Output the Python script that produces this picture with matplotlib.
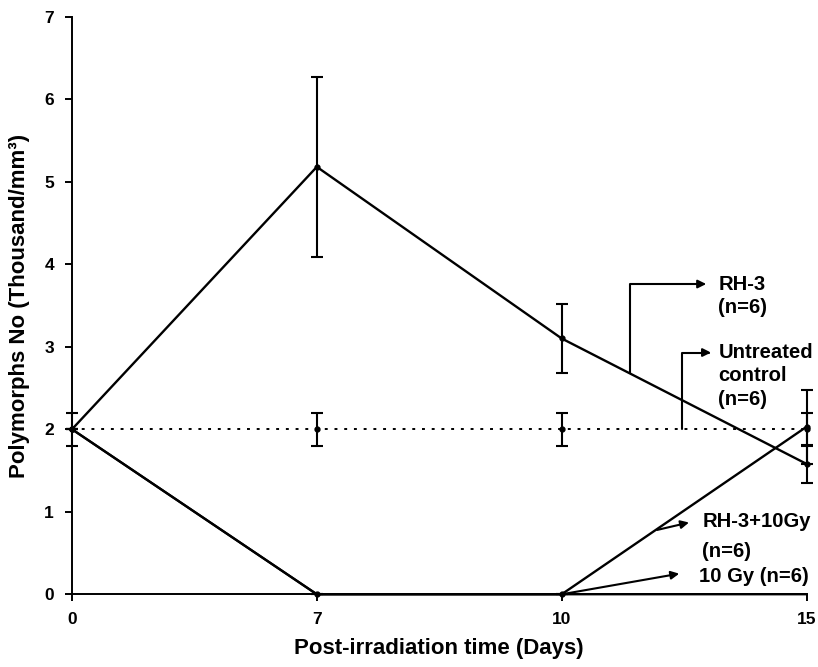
import numpy as np
import matplotlib
matplotlib.use('Agg')
import matplotlib.pyplot as plt

plt.rcParams['font.family'] = ['Liberation Sans', 'DejaVu Sans']
plt.rcParams['font.weight'] = 'bold'

# ---- data ----
days = ['0', '7', '10', '15']
rh3 = [2.0, 5.18, 3.1, 1.58]
rh3_err = [0.0, 1.09, 0.42, 0.23]
control = [2.0, 2.0, 2.0, 2.0]
control_err = [0.2, 0.2, 0.2, 0.2]
rh3_10gy = [2.0, 0.0, 0.0, 2.03]
rh3_10gy_err = [0.0, 0.0, 0.0, 0.45]
gy10 = [2.0, 0.0, 0.0, 0.0]

x = np.arange(len(days))

fig = plt.figure(figsize=(8.18, 6.67), dpi=100)
ax = fig.add_axes([0.088, 0.109, 0.898, 0.866])

common = dict(color='black', marker='o', ms=3.5, capsize=4, elinewidth=1.5,
              capthick=1.5, clip_on=False, zorder=3)

ax.plot(x, gy10, color='black', lw=1.6, clip_on=False, zorder=2)
ax.errorbar(x, control, yerr=control_err, ls=(0, (1.5, 3.5)), lw=1.4, **common)
ax.errorbar(x, rh3_10gy, yerr=rh3_10gy_err, ls='-', lw=1.7, **common)
ax.errorbar(x, rh3, yerr=rh3_err, ls='-', lw=1.7, **common)

ax.set_xlim(0, 3)
ax.set_ylim(0, 7)
ax.set_xticks(x)
ax.set_xticklabels(days)
ax.set_yticks(range(0, 8))
for s in ['top', 'right']:
    ax.spines[s].set_visible(False)
for s in ['left', 'bottom']:
    ax.spines[s].set_linewidth(1.4)
ax.tick_params(axis='both', direction='out', length=5, width=1.4,
               labelsize=12.5, pad=8)
for lab in ax.get_xticklabels() + ax.get_yticklabels():
    lab.set_fontweight('bold')

ax.set_xlabel('Post-irradiation time (Days)', fontsize=16, fontweight='bold', labelpad=8)
ax.set_ylabel('Polymorphs No (Thousand/mm\u00b3)', fontsize=16, fontweight='bold', labelpad=10)

# ---- annotations ----
tfs = 14.6
arrow = dict(arrowstyle='-|>', color='black', lw=1.5, shrinkA=0, shrinkB=0,
             mutation_scale=12)

ax.annotate('', xy=(2.59, 3.76), xytext=(2.28, 2.68),
            arrowprops=dict(connectionstyle='angle,angleA=90,angleB=0,rad=0', **arrow))
ax.text(2.64, 3.76, 'RH-3', fontsize=tfs, fontweight='bold', ha='left', va='center')
ax.text(2.64, 3.47, '(n=6)', fontsize=tfs, fontweight='bold', ha='left', va='center')

ax.annotate('', xy=(2.61, 2.93), xytext=(2.49, 2.0),
            arrowprops=dict(connectionstyle='angle,angleA=90,angleB=0,rad=0', **arrow))
ax.text(2.64, 2.93, 'Untreated', fontsize=tfs, fontweight='bold', ha='left', va='center')
ax.text(2.64, 2.65, 'control', fontsize=tfs, fontweight='bold', ha='left', va='center')
ax.text(2.64, 2.36, '(n=6)', fontsize=tfs, fontweight='bold', ha='left', va='center')

ax.annotate('', xy=(2.52, 0.87), xytext=(2.39, 0.78), arrowprops=arrow)
ax.text(2.575, 0.88, 'RH-3+10Gy', fontsize=tfs, fontweight='bold', ha='left', va='center')
ax.text(2.575, 0.52, '(n=6)', fontsize=tfs, fontweight='bold', ha='left', va='center')

ax.annotate('', xy=(2.48, 0.25), xytext=(2.0, 0.0), arrowprops=arrow)
ax.text(2.56, 0.22, '10 Gy (n=6)', fontsize=tfs, fontweight='bold', ha='left', va='center')

fig.savefig('out.png', dpi=100)
